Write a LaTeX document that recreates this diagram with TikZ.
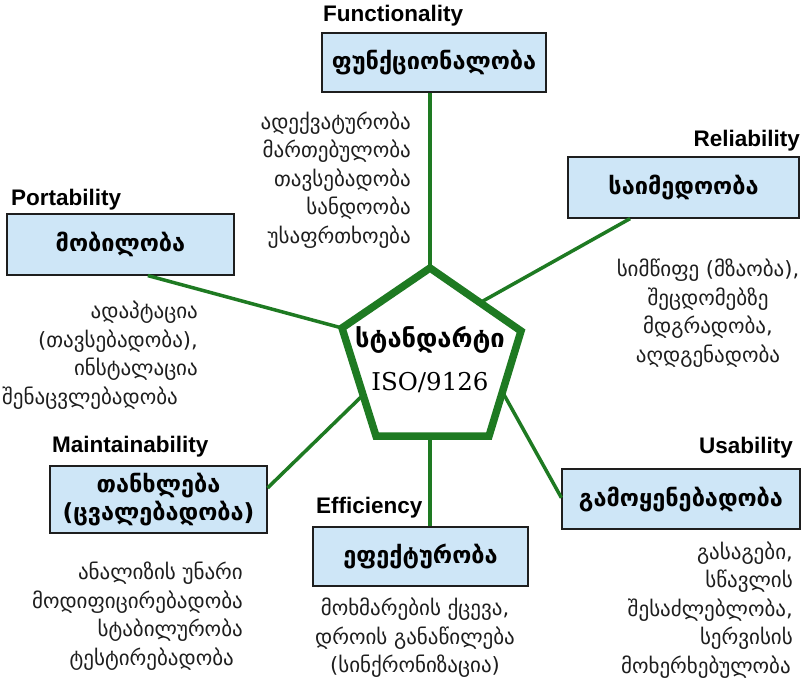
\documentclass[tikz,border=0pt]{standalone}
\usepackage{fontspec}
\setmainfont{DejaVu Sans}
\newfontfamily\labelfont{Liberation Sans}
\newfontfamily\isofont{DejaVu Serif}
\usetikzlibrary{calc}
\definecolor{boxblue}{RGB}{206,230,247}
\definecolor{leafgreen}{RGB}{30,122,34}
\definecolor{inkgray}{RGB}{30,30,30}

\begin{document}
\begin{tikzpicture}[x=1pt,y=-1pt,
  catbox/.style={draw=inkgray, line width=1.2pt, fill=boxblue, inner sep=0pt,
    font=\fontsize{23.5}{28}\selectfont\bfseries, align=center},
  catlabel/.style={font=\labelfont\fontsize{22.5}{24}\selectfont\bfseries, inner sep=0pt},
  traits/.style={font=\fontsize{21}{28.5}\selectfont, text=inkgray, inner sep=0pt},
  link/.style={draw=leafgreen, line width=3.5pt},
  hub/.style={draw=leafgreen, line width=7.5pt, line join=miter, fill=white}]

\fill[white] (0,0) rectangle (805,689);
\useasboundingbox (0,0) rectangle (805,689);

% pentagon corners (stroke centre line)
\coordinate (p1) at (430,268);
\coordinate (p2) at (521,331);
\coordinate (p3) at (489,436);
\coordinate (p4) at (376,436);
\coordinate (p5) at (342,328);
\coordinate (pb) at (430,436);

% category boxes
\node[catbox, minimum width=224, minimum height=59] (fbox) at (434,62.5) {ფუნქციონალობა};
\node[catbox, minimum width=231, minimum height=61] (rbox) at (683.5,187.5) {საიმედოობა};
\node[catbox, minimum width=227, minimum height=61] (pbox) at (120.5,244.5) {მობილობა};
\node[catbox, minimum width=217, minimum height=67] (mbox) at (158.5,499.5) {თანხლება\\(ცვალებადობა)};
\node[catbox, minimum width=215, minimum height=59] (ebox) at (420.5,556.5) {ეფექტურობა};
\node[catbox, minimum width=238, minimum height=60] (ubox) at (681,499) {გამოყენებადობა};

% connectors
\draw[link] (p1 |- fbox.south) -- (p1);
\draw[link] ($(rbox.south west)!0.27!(rbox.south east)$) -- ($(p1)!0.55!(p2)$);
\draw[link] ($(pbox.south west)!0.62!(pbox.south east)$) -- (p5);
\draw[link] ($(mbox.north east)!0.33!(mbox.south east)$) -- ($(p5)!0.62!(p4)$);
\draw[link] (pb) -- (pb |- ebox.north);
\draw[link] ($(p2)!0.58!(p3)$) -- ($(ubox.north west)!0.48!(ubox.south west)$);

% central pentagon
\filldraw[hub] (p1) -- (p2) -- (p3) -- (p4) -- (p5) -- cycle;
\node[font=\fontsize{25.5}{28}\selectfont\bfseries, inner sep=0pt] (std) at (430,340) {სტანდარტი};
\node[font=\isofont\fontsize{24.5}{28}\selectfont, inner sep=0pt] (iso) at (430,383) {ISO/9126};

% English captions
\node[catlabel, anchor=west] (flab) at (323,16) {Functionality};
\node[catlabel, anchor=east] (rlab) at (800,141) {Reliability};
\node[catlabel, anchor=west] (plab) at (11,200) {Portability};
\node[catlabel, anchor=west] (mlab) at (52,447) {Maintainability};
\node[catlabel, anchor=west] (elab) at (316,508) {Efficiency};
\node[catlabel, anchor=east] (ulab) at (793,448) {Usability};

% sub-characteristics
\node[traits, align=right, anchor=east] (flist) at (411,180)
  {ადექვატურობა\\მართებულობა\\თავსებადობა\\სანდოობა\hspace*{7pt}\\უსაფრთხოება};
\node[traits, align=center] (rlist) at (708,313)
  {სიმწიფე (მზაობა),\\შეცდომებზე\\მდგრადობა,\\აღდგენადობა};
\node[traits, align=right, anchor=east] (plist) at (198,355)
  {ადაპტაცია\\(თავსებადობა),\\ინსტალაცია\\შენაცვლებადობა\hspace*{20pt}};
\node[traits, align=right, anchor=east] (mlist) at (243,616)
  {ანალიზის უნარი\\მოდიფიცირებადობა\\სტაბილურობა\hspace*{9pt}\\ტესტირებადობა\hspace*{9pt}};
\node[traits, align=center] (elist) at (415,638)
  {მოხმარების ქცევა,\\დროის განაწილება\\(სინქრონიზაცია)};
\node[traits, align=right, anchor=east] (ulist) at (793,610)
  {გასაგები,\\სწავლის\hspace*{13pt}\\შესაძლებლობა,\\სერვისის\hspace*{10pt}\\მოხერხებულობა\hspace*{2pt}};
\end{tikzpicture}
\end{document}
